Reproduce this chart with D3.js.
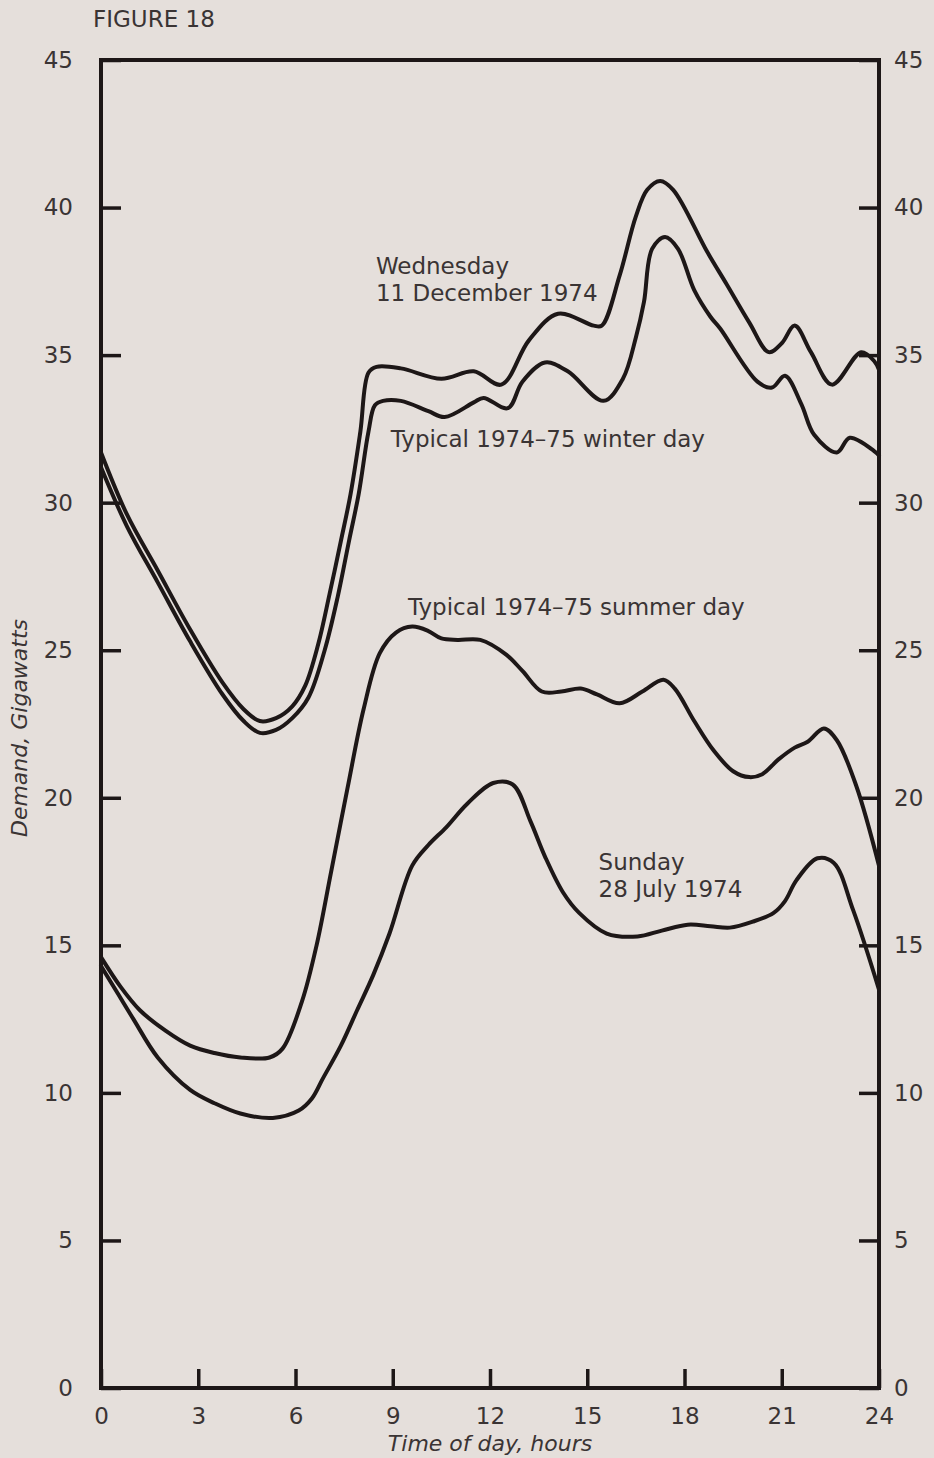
<!DOCTYPE html>
<html>
<head>
<meta charset="utf-8">
<script src="https://cdn.jsdelivr.net/npm/d3@7"></script>
<style>
  body { margin: 0; background: #e5dfdb; }
  svg { display: block; }
</style>
</head>
<body>
<div id="chart"></div>
<script>
// hours / demand (GW)
const wedHours = [0, 0.8, 1.75, 2.75, 3.75, 4.4, 4.9, 5.4, 5.9, 6.3, 6.7, 7.05, 7.4, 7.7, 8.0, 8.25, 8.5, 9.25, 10.5, 11.5, 12.35, 13.2, 14.1, 15.2, 15.45, 16.0, 16.5, 16.85, 17.25, 17.65, 18.7, 19.3, 20.0, 20.6, 21.0, 21.4, 21.9, 22.55, 23.45, 23.85, 24];
const wedValues = [31.7, 29.6, 27.7, 25.7, 23.9, 23.0, 22.6, 22.7, 23.1, 23.8, 25.2, 26.9, 28.7, 30.3, 32.4, 34.4, 34.6, 34.55, 34.2, 34.45, 34.0, 35.5, 36.4, 36.0, 36.0, 37.7, 39.7, 40.6, 40.9, 40.6, 38.5, 37.4, 36.1, 35.1, 35.4, 36.0, 35.1, 34.0, 35.1, 34.8, 34.5];

const winHours = [0, 0.8, 1.75, 2.75, 3.75, 4.4, 4.9, 5.4, 5.9, 6.4, 6.9, 7.3, 7.65, 7.95, 8.25, 8.45, 8.7, 9.25, 10.1, 10.6, 11.5, 11.8, 12.55, 13.0, 13.7, 14.4, 15.5, 16.1, 16.5, 16.75, 17.0, 17.4, 17.8, 18.3, 18.8, 19.1, 20.25, 20.7, 21.1, 21.6, 22.0, 22.7, 23.1, 23.85, 24];
const winValues = [31.2, 29.2, 27.3, 25.3, 23.5, 22.6, 22.2, 22.3, 22.7, 23.4, 25.0, 26.8, 28.7, 30.3, 32.4, 33.3, 33.45, 33.45, 33.1, 32.9, 33.4, 33.55, 33.2, 34.1, 34.75, 34.45, 33.45, 34.2, 35.6, 36.8, 38.6, 39.0, 38.6, 37.2, 36.3, 35.9, 34.1, 33.9, 34.3, 33.35, 32.3, 31.7, 32.2, 31.75, 31.6];

const sumHours = [0, 0.6, 1.2, 2.0, 2.75, 3.5, 4.3, 5.2, 5.6, 6.2, 6.65, 7.1, 7.6, 8.1, 8.6, 9.1, 9.6, 10.1, 10.5, 11.0, 11.7, 12.5, 13.0, 13.6, 14.2, 14.8, 15.3, 16.0, 16.7, 17.35, 17.7, 18.3, 18.9, 19.5, 20.0, 20.4, 20.9, 21.4, 21.8, 22.3, 22.7, 23.3, 24];
const sumValues = [14.6, 13.6, 12.8, 12.1, 11.6, 11.35, 11.2, 11.2, 11.5, 13.1, 15.0, 17.5, 20.3, 23.0, 24.9, 25.6, 25.8, 25.65, 25.4, 25.35, 25.35, 24.85, 24.3, 23.6, 23.6, 23.7, 23.5, 23.2, 23.6, 24.0, 23.7, 22.6, 21.6, 20.9, 20.7, 20.8, 21.3, 21.7, 21.9, 22.35, 21.95, 20.4, 17.7];

const sunHours = [0, 0.5, 1.0, 1.75, 2.75, 3.5, 4.3, 5.3, 6.1, 6.5, 6.85, 7.4, 7.9, 8.4, 8.9, 9.6, 10.1, 10.65, 11.3, 12.1, 12.7, 13.25, 13.7, 14.25, 14.75, 15.6, 16.55, 17.3, 18.1, 18.8, 19.4, 20.1, 20.75, 21.1, 21.45, 22.1, 22.6, 23.2, 24];
const sunValues = [14.3, 13.4, 12.5, 11.2, 10.1, 9.65, 9.3, 9.15, 9.4, 9.8, 10.5, 11.6, 12.8, 14.0, 15.4, 17.7, 18.4, 19.0, 19.8, 20.5, 20.45, 19.2, 18.0, 16.8, 16.1, 15.4, 15.3, 15.5, 15.7, 15.65, 15.6, 15.8, 16.1, 16.5, 17.2, 17.95, 17.8, 16.2, 13.5];

const xTicks = [0, 3, 6, 9, 12, 15, 18, 21, 24];
const yTicks = [0, 5, 10, 15, 20, 25, 30, 35, 40, 45];

const seriesLabels = [
  { lines: ["Wednesday", "11 December 1974"], h: 8.48, v: 37.75 },
  { lines: ["Typical 1974\u201375 winter day"], h: 8.94, v: 31.9 },
  { lines: ["Typical 1974\u201375 summer day"], h: 9.47, v: 26.2 },
  { lines: ["Sunday", "28 July 1974"], h: 15.35, v: 17.55 }
];

const width = 934, height = 1458;
const ink = "#1d1717";
const textInk = "#3a3434";
const font = "'DejaVu Sans', sans-serif";

const svg = d3.select("#chart").append("svg")
  .attr("width", width)
  .attr("height", height);

svg.append("rect").attr("width", width).attr("height", height).attr("fill", "#e5dfdb");

const x = d3.scaleLinear().domain([0, 24]).range([101, 879]);
const y = d3.scaleLinear().domain([0, 45]).range([1388, 60]);

// axes, ticks pointing inward
function styleAxis(g) {
  g.select(".domain").remove();
  g.selectAll(".tick line").attr("stroke", ink).attr("stroke-width", 3.5);
  g.selectAll(".tick text").attr("fill", textInk).attr("font-family", font).attr("font-size", 23);
}

svg.append("g")
  .attr("transform", `translate(0, ${y(0)})`)
  .call(d3.axisBottom(x).tickValues(xTicks).tickSize(-19).tickPadding(20).tickFormat(d3.format("d")))
  .call(styleAxis);

svg.append("g")
  .attr("transform", `translate(${x(0)}, 0)`)
  .call(d3.axisLeft(y).tickValues(yTicks).tickSize(-20).tickPadding(28).tickFormat(d3.format("d")))
  .call(styleAxis);

svg.append("g")
  .attr("transform", `translate(${x(24)}, 0)`)
  .call(d3.axisRight(y).tickValues(yTicks).tickSize(-20).tickPadding(15).tickFormat(d3.format("d")))
  .call(styleAxis);

// frame
svg.append("rect")
  .attr("x", x(0)).attr("y", y(45))
  .attr("width", x(24) - x(0)).attr("height", y(0) - y(45))
  .attr("fill", "none").attr("stroke", ink).attr("stroke-width", 4);

// curves
const line = d3.line()
  .x(d => x(d[0]))
  .y(d => y(d[1]))
  .curve(d3.curveCatmullRom.alpha(0.5));

const series = [
  d3.zip(wedHours, wedValues),
  d3.zip(winHours, winValues),
  d3.zip(sumHours, sumValues),
  d3.zip(sunHours, sunValues)
];

svg.append("g").selectAll("path")
  .data(series)
  .enter()
  .append("path")
  .attr("d", line)
  .attr("fill", "none")
  .attr("stroke", ink)
  .attr("stroke-width", 4)
  .attr("stroke-linejoin", "round")
  .attr("stroke-linecap", "round");

// series labels
seriesLabels.forEach(lab => {
  const t = svg.append("text")
    .attr("x", x(lab.h)).attr("y", y(lab.v))
    .attr("fill", textInk).attr("font-family", font).attr("font-size", 23);
  lab.lines.forEach((s, i) => {
    t.append("tspan").attr("x", x(lab.h)).attr("dy", i === 0 ? 0 : 27).text(s);
  });
});

// titles
svg.append("text")
  .attr("x", 93).attr("y", 27)
  .attr("fill", textInk).attr("font-family", font).attr("font-size", 23)
  .text("FIGURE 18");

svg.append("text")
  .attr("x", 490).attr("y", 1451)
  .attr("text-anchor", "middle")
  .attr("fill", textInk).attr("font-family", font).attr("font-size", 22).attr("font-style", "italic")
  .text("Time of day, hours");

svg.append("text")
  .attr("transform", "translate(27, 728) rotate(-90)")
  .attr("text-anchor", "middle")
  .attr("fill", textInk).attr("font-family", font).attr("font-size", 22).attr("font-style", "italic")
  .text("Demand, Gigawatts");
</script>
</body>
</html>
